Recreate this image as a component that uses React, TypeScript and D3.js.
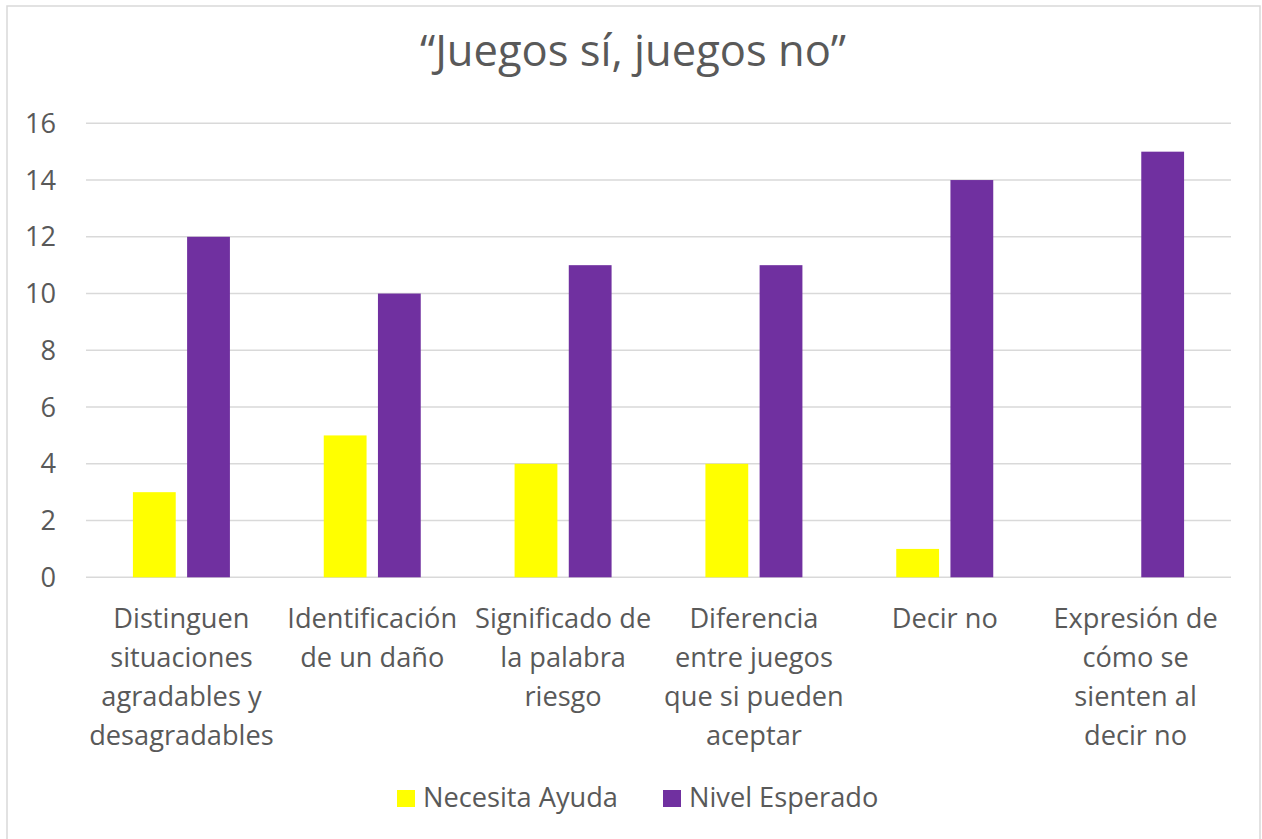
import React from "react";
import * as d3 from "d3";

const title = "“Juegos sí, juegos no”";
const categories = [
  "Distinguen situaciones agradables y desagradables",
  "Identificación de un daño",
  "Significado de la palabra riesgo",
  "Diferencia entre juegos que si pueden aceptar",
  "Decir no",
  "Expresión de cómo se sienten al decir no",
];
const categoryLines = [
  ["Distinguen", "situaciones", "agradables y", "desagradables"],
  ["Identificación", "de un daño"],
  ["Significado de", "la palabra", "riesgo"],
  ["Diferencia", "entre juegos", "que si pueden", "aceptar"],
  ["Decir no"],
  ["Expresión de", "cómo se", "sienten al", "decir no"],
];
const seriesNames = ["Necesita Ayuda", "Nivel Esperado"];
const necesitaAyuda = [3, 5, 4, 4, 1, 0];
const nivelEsperado = [12, 10, 11, 11, 14, 15];
const yTicks = [0, 2, 4, 6, 8, 10, 12, 14, 16];
const colors = ["#FFFF00", "#7030A0"];

const W = 1262;
const H = 839;
const FONT = "'Open Sans', 'Noto Sans', sans-serif";
const TEXT = "#595959";
const FS = 27.2;

export default function App() {
  React.useEffect(() => {
    document.body.style.margin = "0";
  }, []);
  const x = d3.scaleBand<string>().domain(categories).range([86, 1231]).paddingInner(0).paddingOuter(0);
  const xs = d3.scaleBand<string>().domain(seriesNames).range([-48.5, 48.5]).paddingInner(0.21).paddingOuter(0);
  const y = d3.scaleLinear().domain([0, 16]).range([577.3, 123.3]);
  const series = [necesitaAyuda, nivelEsperado];

  return (
    <svg width={W} height={H} style={{ display: "block", background: "#fff" }}>
      <rect x={7} y={6} width={1253} height={850} fill="#fff" stroke="#D9D9D9" strokeWidth={1.5} />
      <text x={633} y={66} textAnchor="middle" fontFamily={FONT} fontSize={43.5} fill={TEXT} fontWeight={400}>
        {title}
      </text>
      {yTicks.map((t) => (
        <g key={t}>
          <line x1={86} x2={1231} y1={y(t)} y2={y(t)} stroke="#D9D9D9" strokeWidth={1.5} />
          <text x={56} y={y(t) + 9.5} textAnchor="end" fontFamily={FONT} fontSize={FS} fill={TEXT}>
            {t}
          </text>
        </g>
      ))}
      {series.map((vals, si) =>
        vals.map((v, ci) => {
          const cx = (x(categories[ci]) as number) + x.bandwidth() / 2;
          const bx = cx + (xs(seriesNames[si]) as number);
          return v > 0 ? (
            <rect key={si + "-" + ci} x={bx} y={y(v)} width={xs.bandwidth()} height={y(0) - y(v)} fill={colors[si]} />
          ) : null;
        })
      )}
      {categoryLines.map((lines, ci) => {
        const cx = (x(categories[ci]) as number) + x.bandwidth() / 2;
        return (
          <text key={ci} textAnchor="middle" fontFamily={FONT} fontSize={FS} fill={TEXT}>
            {lines.map((l, li) => (
              <tspan key={li} x={cx} y={628 + li * 39}>
                {l}
              </tspan>
            ))}
          </text>
        );
      })}
      {seriesNames.map((n, i) => {
        const lx = [397, 663][i];
        return (
          <g key={n}>
            <rect x={lx} y={790} width={18} height={17} fill={colors[i]} />
            <text x={lx + 26} y={807} fontFamily={FONT} fontSize={FS} fill={TEXT}>
              {n}
            </text>
          </g>
        );
      })}
    </svg>
  );
}
